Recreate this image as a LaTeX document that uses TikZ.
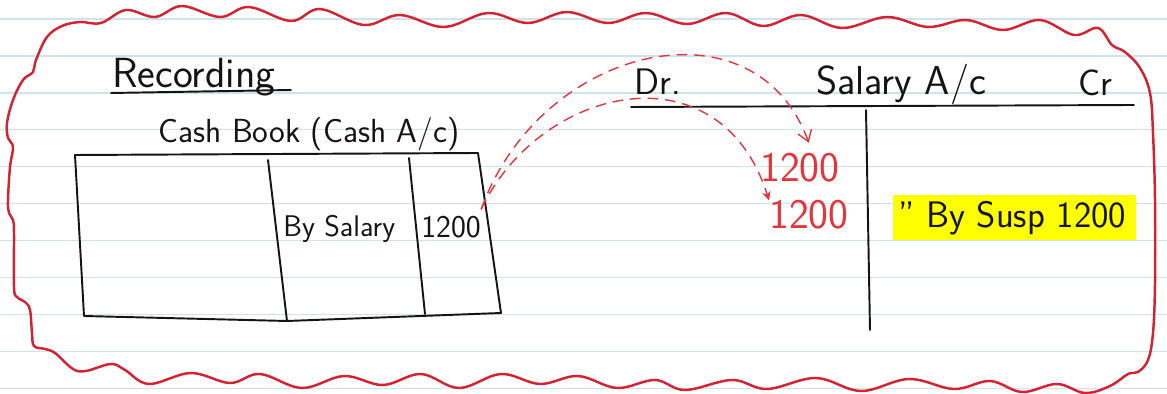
\documentclass[tikz,border=0pt]{standalone}
\usepackage{xcolor}
\usepackage{tikz}
\usetikzlibrary{arrows.meta}

\definecolor{paperline}{RGB}{205,227,240}
\definecolor{cloudred}{RGB}{212,34,50}
\definecolor{inkred}{RGB}{228,52,60}
\definecolor{inkblack}{RGB}{20,20,20}
\definecolor{marker}{RGB}{255,255,0}

\begin{document}
\begin{tikzpicture}[x=0.02cm, y=-0.02cm,
    hand/.style={inner sep=0pt, text=inkblack, font=\sffamily\fontsize{#1}{#1}\selectfont},
    redhand/.style={hand=#1, text=inkred},
    inkline/.style={draw=inkblack, line width=1.1pt, line cap=round, line join=round},
    dasharrow/.style={draw=inkred, line width=0.8pt, dash pattern=on 6pt off 4pt}]
    \useasboundingbox (0,0) rectangle (1167,394);

    % Giấy kẻ dòng
    \foreach \k in {0,...,10}
        \draw[paperline, line width=0.7pt] (0,{19+36.95*\k}) -- (1167,{19+36.95*\k});

    % Khung mây đỏ
    \draw[cloudred, line width=1.4pt, line join=round] plot[smooth cycle, tension=0.6] coordinates {
        (62,26) (80,22) (101,23) (126,10) (155,17) (182,6) (220,17) (249,7)
        (291,21) (320,9) (364,25) (400,15) (444,27) (488,13) (528,23) (567,12)
        (608,23) (646,13) (687,24) (726,13) (763,26) (801,15) (842,28) (887,17)
        (928,27) (966,20) (1003,30) (1040,20) (1074,35) (1098,28) (1112,45)
        (1125,52) (1140,68) (1150,93) (1153,133) (1155,200) (1155,283) (1153,333)
        (1148,360) (1138,372) (1128,374) (1110,386) (1085,393) (1057,384)
        (1022,392) (990,381) (954,389) (909,379) (861,391) (816,378) (767,389)
        (732,380) (685,390) (655,380) (617,388) (578,376) (540,384) (501,374)
        (459,388) (421,374) (383,385) (344,376) (302,388) (260,374) (230,383)
        (191,373) (149,384) (125,370) (111,364) (86,371) (73,369) (55,353)
        (45,349) (34,346) (32,333) (30,310) (25,302) (17,297) (14,287) (14,233)
        (13,220) (9,213) (8,200) (10,167) (13,147) (8,138) (7,123) (13,100)
        (23,80) (33,72) (36,60) (47,37)};

    % Sổ quỹ tiền mặt
    \node[hand=24, anchor=base west] (rec) at (112,88) {Recording};
    \draw[inkline] (111,93) -- (291,90);
    \node[hand=19, anchor=base] (cbtitle) at (309,143) {Cash Book (Cash A/c)};
    \coordinate (tl) at (75,155);
    \coordinate (tr) at (478,153);
    \coordinate (br) at (501,313);
    \coordinate (bm) at (287,321);
    \coordinate (bl) at (84,316);
    \draw[inkline] (tl) -- (tr) -- (br) -- (bm) -- (bl) -- cycle;
    \draw[inkline] (268,160) -- (bm);
    \draw[inkline] (409,158) -- (425,314);
    \node[hand=17, anchor=base west] (bysal) at (283,237) {By Salary};
    \node[hand=18, anchor=base west] (cb1200) at (421,238) {1200};

    % Tài khoản lương
    \node[hand=21, anchor=base west] (dr) at (634,95) {Dr.};
    \node[hand=23, anchor=base west] (salac) at (816,95) {Salary A/c};
    \node[hand=21, anchor=base west] (cr) at (1078,96) {Cr};
    \draw[inkline] (631,107) -- (1134,105);
    \draw[inkline] (866,110) -- (870,330);
    \node[redhand=24, anchor=base west] (ra) at (760,182) {1200};
    \node[redhand=24, anchor=base west] (rb) at (769,229) {1200};
    \fill[marker] (893,195) rectangle (1136,240);
    \node[hand=21, anchor=base west] (susp) at (898,228) {'' By Susp 1200};

    % Mũi tên nét đứt
    \draw[dasharrow, -{Straight Barb[length=6pt, width=8pt]}]
        ([yshift=4pt]cb1200.north east) .. controls (540,45) and (755,-5) .. ([xshift=5pt, yshift=6pt]ra.north);
    \draw[dasharrow, -{Stealth[length=5pt, width=5pt]}]
        ([yshift=4pt]cb1200.north east) .. controls (540,85) and (720,45) .. (rb.north west);
\end{tikzpicture}
\end{document}
